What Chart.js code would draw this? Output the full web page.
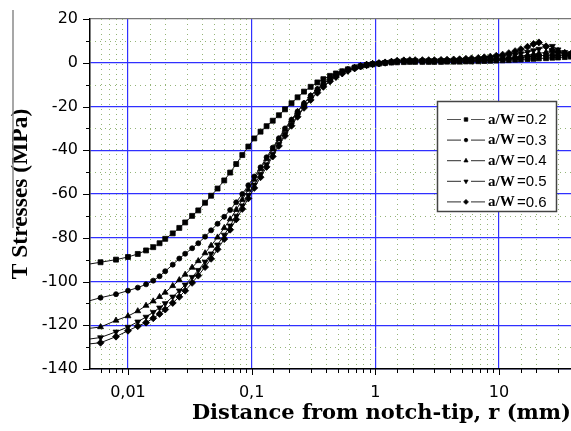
<!DOCTYPE html>
<html><head><meta charset="utf-8">
<script src="https://cdn.jsdelivr.net/npm/chart.js@4.4.1/dist/chart.umd.min.js"></script>
<style>html,body{margin:0;padding:0;background:#fff}#wrap{width:571px;height:431px;position:relative}</style>
</head><body><div id="wrap"><canvas id="c" width="571" height="431"></canvas></div>
<script>
// distance from notch tip r (mm)
const R = [0.004,0.006,0.008,0.010,0.012,0.014,0.016,0.018,0.020,0.023,
  0.026,0.029,0.033,0.037,0.042,0.047,0.053,0.06,0.067,0.075,
  0.084,0.094,0.105,0.118,0.132,0.148,0.166,0.186,0.21,0.235,
  0.265,0.3,0.34,0.38,0.43,0.48,0.54,0.6,0.68,0.76,
  0.85,0.95,1.07,1.2,1.35,1.5,1.7,1.9,2.1,2.4,
  2.7,3.0,3.4,3.8,4.3,4.8,5.4,6.0,6.8,7.6,
  8.5,9.5,10.7,12,13.5,15,17,19,21,24,
  27,30,34,38];
const S02 = [-92.8,-91.2,-90.0,-88.8,-87.4,-85.8,-84.3,-82.5,-80.5,-78,
  -75.5,-73,-70,-67.5,-64,-60.8,-57.5,-53.8,-50.2,-46.3,
  -42.2,-38.3,-34.6,-31.5,-29,-26.5,-24,-21.3,-18.5,-15.8,
  -13.2,-11,-9,-7.5,-6,-4.9,-3.9,-3.0,-2.2,-1.6,
  -1.1,-0.7,-0.4,-0.1,0.1,0.2,0.3,0.4,0.4,0.4,
  0.4,0.4,0.4,0.5,0.5,0.5,0.6,0.6,0.7,0.8,
  0.9,1.0,1.1,1.2,1.4,1.5,1.7,1.8,2.0,2.1,
  2.3,2.4,2.6,2.8];
const S03 = [-110.2,-107.4,-105.8,-104.2,-102.8,-101.3,-99.6,-97.6,-95.3,-92.3,
  -89.5,-87.3,-84.8,-82.5,-79.5,-76.6,-73.6,-70.4,-67.3,-63.8,
  -60,-56,-52,-47.8,-43.2,-38.8,-34.5,-30,-26,-22.3,
  -18.5,-15,-12,-9.5,-7.3,-5.6,-4.2,-3.1,-2.1,-1.4,
  -0.8,-0.4,-0.1,0.2,0.4,0.5,0.6,0.6,0.6,0.6,
  0.6,0.6,0.6,0.7,0.7,0.8,0.9,1.0,1.1,1.2,
  1.3,1.5,1.7,1.9,2.1,2.4,2.7,3.0,3.2,3.4,
  3.6,3.5,3.3,3.2];
const S04 = [-122,-120.8,-117.8,-115.8,-113.5,-111,-109,-107,-105,-102,
  -99.3,-96.8,-93.6,-90.6,-87,-83.6,-79.8,-75.5,-71.5,-67.2,
  -62.6,-58,-53.4,-48.6,-44,-39.5,-35,-30.6,-26.3,-22.4,
  -18.6,-15.2,-12.2,-9.8,-7.5,-5.8,-4.3,-3.2,-2.2,-1.4,
  -0.8,-0.4,-0.1,0.2,0.5,0.7,0.8,0.8,0.8,0.8,
  0.8,0.8,0.9,0.9,1.0,1.0,1.1,1.2,1.3,1.5,
  1.7,1.9,2.1,2.4,2.8,3.1,3.5,3.9,4.3,4.8,
  5.3,5.5,4.6,4.0];
const S05 = [-127,-125.6,-123,-120.8,-118.4,-116.2,-114,-112,-110,-107,
  -104.2,-101.5,-98,-94.8,-91,-87.3,-83.2,-78.7,-74.5,-70,
  -65.3,-60.5,-55.8,-51,-46.5,-41.8,-37.2,-32.7,-28.2,-24.2,
  -20.2,-16.6,-13.4,-10.8,-8.3,-6.4,-4.8,-3.6,-2.5,-1.6,
  -1.0,-0.5,-0.2,0.1,0.5,0.8,1.0,1.0,1.0,1.0,
  1.0,1.0,1.1,1.1,1.2,1.3,1.4,1.5,1.7,1.9,
  2.1,2.4,2.8,3.2,3.7,4.2,4.9,5.6,6.3,7.2,
  7.6,6.0,4.8,4.3];
const S06 = [-129,-128,-125.2,-122.5,-120.4,-118.8,-116.8,-114.8,-112.8,-109.8,
  -107,-104.2,-100.6,-97.3,-93.4,-89.6,-85.3,-80.6,-76.3,-71.6,
  -66.8,-62,-57.2,-52.3,-47.6,-42.8,-38,-33.4,-28.8,-24.7,
  -20.6,-17,-13.7,-11,-8.5,-6.5,-4.9,-3.7,-2.6,-1.7,
  -1.1,-0.6,-0.3,0.0,0.5,0.9,1.1,1.2,1.2,1.2,
  1.2,1.2,1.3,1.4,1.5,1.6,1.8,2.0,2.2,2.5,
  2.8,3.2,3.7,4.4,5.3,6.2,7.3,8.6,9.3,7.5,
  5.8,4.8,4.3,4.0];
const SERIES_LABELS = ['a/W =0.2','a/W =0.3','a/W =0.4','a/W =0.5','a/W =0.6'];
const X_TICK_VALUES = [0.01, 0.1, 1, 10];
const X_TICK_LABELS = ['0,01', '0,1', '1', '10'];
const Y_MIN = -140, Y_MAX = 20, Y_STEP = 10, Y_LABEL_STEP = 20;
const X_MIN = 0.00493, X_MAX = 38.2;

const SERIES = [S02, S03, S04, S05, S06];
const STYLES = [
  {pointStyle:'rect', rotation:0, radius:3.5},
  {pointStyle:'circle', rotation:0, radius:2.5},
  {pointStyle:'triangle', rotation:0, radius:3.4},
  {pointStyle:'triangle', rotation:180, radius:3.4},
  {pointStyle:'rectRot', rotation:0, radius:3.5}
];
const BLUE = '#3030ff';
const DOT = '#94b477';

function isMajorLog(v){ const l = Math.log10(v); return Math.abs(l - Math.round(l)) < 1e-6; }
function majorLabel(v){
  for (let i=0;i<X_TICK_VALUES.length;i++) if (Math.abs(Math.log10(v)-Math.log10(X_TICK_VALUES[i]))<1e-6) return X_TICK_LABELS[i];
  return '';
}

const datasets = SERIES.map((s, k) => ({
  label: SERIES_LABELS[k],
  data: R.map((r, i) => ({x: r, y: s[i]})),
  borderColor: '#111',
  backgroundColor: '#000',
  pointBackgroundColor: '#000',
  pointBorderColor: '#000',
  pointBorderWidth: 0.8,
  borderWidth: 1,
  pointStyle: STYLES[k].pointStyle,
  rotation: STYLES[k].rotation,
  pointRotation: STYLES[k].rotation,
  pointRadius: STYLES[k].radius,
  tension: 0,
  fill: false
}));

const decorPlugin = {
  id: 'decor',
  beforeDatasetsDraw(chart){
    const {ctx, chartArea: a, scales: {x, y}} = chart;
    ctx.save();
    ctx.strokeStyle = DOT; ctx.lineWidth = 1; ctx.setLineDash([1, 4]);
    x.ticks.forEach(t => {
      if (isMajorLog(t.value) || t.value <= X_MIN*1.01 || t.value >= X_MAX*0.99) return;
      const px = Math.round(x.getPixelForValue(t.value)) + 0.5;
      ctx.beginPath(); ctx.moveTo(px, a.top); ctx.lineTo(px, a.bottom); ctx.stroke();
    });
    y.ticks.forEach(t => {
      if (t.value % Y_LABEL_STEP === 0) return;
      const py = Math.round(y.getPixelForValue(t.value)) + 0.5;
      ctx.beginPath(); ctx.moveTo(a.left, py); ctx.lineTo(a.right, py); ctx.stroke();
    });
    ctx.restore();
  },
  afterDraw(chart){
    const {ctx, chartArea: a, scales: {x, y}} = chart;
    ctx.save();
    ctx.strokeStyle = '#000'; ctx.lineWidth = 1;
    x.ticks.forEach(t => {
      if (t.value <= X_MIN*1.01 || t.value >= X_MAX*0.99) return;
      const px = Math.round(x.getPixelForValue(t.value)) + 0.5;
      const len = isMajorLog(t.value) ? 6 : 4;
      ctx.beginPath(); ctx.moveTo(px, a.bottom); ctx.lineTo(px, a.bottom + len); ctx.stroke();
    });
    y.ticks.forEach(t => {
      const py = Math.round(y.getPixelForValue(t.value)) + 0.5;
      const len = (t.value % Y_LABEL_STEP === 0) ? 7 : 4;
      ctx.beginPath(); ctx.moveTo(a.left - len, py); ctx.lineTo(a.left, py); ctx.stroke();
    });
    // stray vertical rule beside the y title
    ctx.strokeStyle = '#8a8a8a'; ctx.lineWidth = 1.5;
    ctx.beginPath(); ctx.moveTo(13, 10); ctx.lineTo(13, 228); ctx.stroke();

    // legend box
    const bx = 437.5, by = 101.5, bw = 119, bh = 110;
    ctx.fillStyle = '#fff'; ctx.fillRect(bx, by, bw, bh);
    ctx.strokeStyle = '#444'; ctx.lineWidth = 1.5; ctx.strokeRect(bx, by, bw, bh);
    chart.data.datasets.forEach((ds, i) => {
      const yc = by + 18 + i * 20.6;
      ctx.strokeStyle = '#555'; ctx.lineWidth = 1.2;
      ctx.beginPath(); ctx.moveTo(447, yc); ctx.lineTo(461, yc); ctx.moveTo(471, yc); ctx.lineTo(485, yc); ctx.stroke();
      ctx.fillStyle = '#000'; ctx.strokeStyle = '#000'; ctx.lineWidth = 0.8;
      Chart.helpers.drawPoint(ctx, {pointStyle: ds.pointStyle, rotation: ds.pointRotation, radius: ds.pointRadius * 0.7, borderWidth: 0.8}, 466, yc);
      const parts = ds.label.split('=');
      ctx.textBaseline = 'middle'; ctx.textAlign = 'left';
      ctx.font = 'bold 15px "Liberation Serif", "Times New Roman", serif';
      ctx.fillText(parts[0].trim(), 488, yc + 0.5);
      ctx.font = '15px "Liberation Sans", Arial, sans-serif';
      ctx.fillText('=' + parts[1], 517, yc + 0.5);
    });
    ctx.restore();
  }
};

new Chart(document.getElementById('c'), {
  type: 'line',
  data: { datasets },
  options: {
    responsive: false,
    devicePixelRatio: 1,
    animation: false,
    layout: { autoPadding: false, padding: { top: 19, right: 0, left: 0, bottom: 0 } },
    plugins: { legend: { display: false }, tooltip: { enabled: false } },
    elements: { line: { tension: 0 } },
    scales: {
      x: {
        type: 'logarithmic',
        min: X_MIN, max: X_MAX,
        afterFit(s){ s.height = 62; s.paddingLeft = 0; s.paddingRight = 0; },
        border: { display: true, color: '#000', width: 1.5 },
        grid: {
          drawTicks: false,
          color: c => (c.tick && isMajorLog(c.tick.value)) ? BLUE : 'rgba(0,0,0,0)',
          lineWidth: 1.2
        },
        ticks: {
          autoSkip: false, maxRotation: 0, padding: 14, color: '#000',
          font: { family: '"DejaVu Sans", sans-serif', size: 16 },
          callback: v => isMajorLog(v) ? majorLabel(v) : ''
        },
        title: {
          display: true, text: 'Distance from notch-tip, r (mm)', align: 'end', color: '#000',
          font: { family: '"DejaVu Serif", serif', weight: 'bold', size: 21 },
          padding: { top: 0, bottom: 5 }
        }
      },
      y: {
        min: Y_MIN, max: Y_MAX,
        afterFit(s){ s.width = 90; s.paddingTop = 0; s.paddingBottom = 0; },
        border: { display: true, color: '#000', width: 1.5 },
        grid: {
          drawTicks: false,
          color: c => {
            const v = c.tick ? c.tick.value : 0;
            if (v === Y_MAX) return '#777';
            return (v % Y_LABEL_STEP === 0) ? BLUE : 'rgba(0,0,0,0)';
          },
          lineWidth: 1.2
        },
        ticks: {
          stepSize: Y_STEP, padding: 12, color: '#000', autoSkip: false,
          font: { family: '"DejaVu Sans", sans-serif', size: 16 },
          callback: v => (v % Y_LABEL_STEP === 0) ? String(v) : ''
        },
        title: {
          display: true, text: 'T Stresses (MPa)', color: '#000',
          font: { family: '"Liberation Serif", "Times New Roman", serif', weight: 'bold', size: 23.5 },
          padding: { top: 7, bottom: 0 }
        }
      }
    }
  },
  plugins: [decorPlugin]
});
</script></body></html>
